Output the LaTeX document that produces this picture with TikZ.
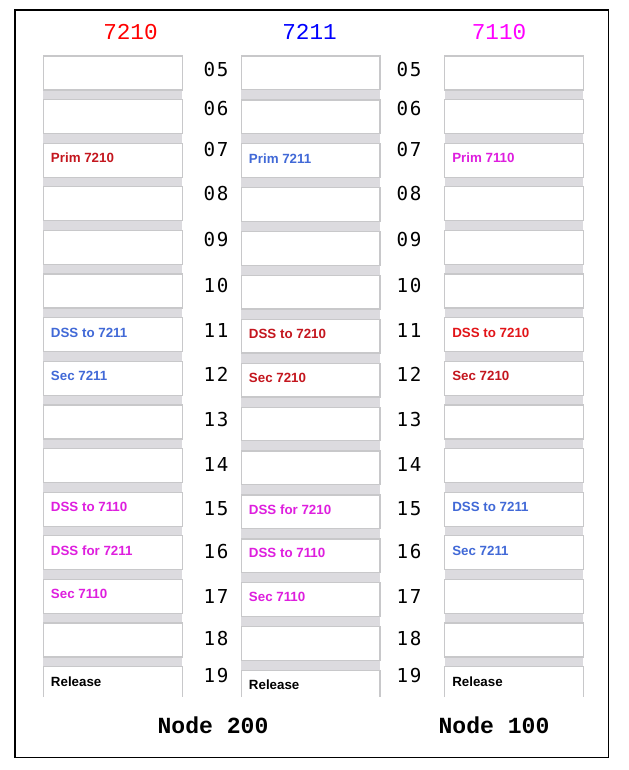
\documentclass[tikz,border=0pt]{standalone}
\usepackage{fontspec}
\setmainfont{Liberation Sans}
\newfontfamily\numfont[LetterSpace=8]{DejaVu Sans Mono}
\newfontfamily\hdrfont{Liberation Mono}
\definecolor{cellline}{RGB}{200,200,202}
\definecolor{bandfill}{RGB}{220,219,223}
\definecolor{colbg}{RGB}{253,253,253}
\definecolor{hred}{RGB}{255,0,0}
\definecolor{hblue}{RGB}{0,0,255}
\definecolor{hmag}{RGB}{255,0,255}
\definecolor{lred}{RGB}{196,22,30}
\definecolor{lbred}{RGB}{226,20,24}
\definecolor{lblue}{RGB}{65,105,215}
\definecolor{lmag}{RGB}{222,30,222}
\begin{document}
\begin{tikzpicture}[x=0.75pt,y=-0.75pt,
  cell/.style={draw=cellline,line width=0.95pt,fill=white},
  band/.style={fill=bandfill},
  lbl/.style={anchor=west,inner sep=0pt,font=\fontsize{10}{12}\selectfont\bfseries},
  num/.style={inner sep=0pt,font=\fontsize{14.4}{16}\selectfont\numfont},
  hdr/.style={inner sep=0pt,font=\fontsize{17}{20}\selectfont\hdrfont},
  foot/.style={inner sep=0pt,font=\fontsize{17.3}{20}\selectfont\hdrfont\bfseries}]
\useasboundingbox (0,0) rectangle (628,770);
\draw[line width=1pt] (15,10) rectangle (608.3,757.3);
% columns
\foreach \L/\R/\P/\H in {43.3/182.3/43.62/34, 241.3/380/43.9/33.6, 444.7/583.3/43.62/34}{
  \fill[colbg] (\L,56) rectangle (\R,697);
  \foreach \i in {0,...,13}{
    \fill[band] (\L,{56+\i*\P+\H}) rectangle (\R,{56+(\i+1)*\P});
    \draw[cell] (\L,{56+\i*\P}) rectangle (\R,{56+\i*\P+\H});
  }
  \fill[white] (\L,{56+14*\P}) rectangle (\R,697);
  \draw[draw=cellline,line width=0.95pt] (\L,697) -- (\L,{56+14*\P}) -- (\R,{56+14*\P}) -- (\R,697);
}
% headers
\node[hdr,text=hred]  (h7210) at (130.5,32.5) {7210};
\node[hdr,text=hblue] (h7211) at (309.5,31.5) {7211};
\node[hdr,text=hmag]  (h7110) at (499,32) {7110};
% slot numbers
\foreach \n/\y in {05/69.3,06/108.3,07/149.3,08/193.3,09/239.3,10/286,11/330.7,12/374,13/420,14/464.3,15/508.7,16/552,17/596.7,18/638.3,19/676}{
  \node[num] (na\n) at (216,\y) {\n};
  \node[num] (nb\n) at (409,\y) {\n};
}
% labels column 1
\foreach \r/\t/\c in {2/Prim 7210/lred,6/DSS to 7211/lblue,7/Sec 7211/lblue,10/DSS to 7110/lmag,11/DSS for 7211/lmag,12/Sec 7110/lmag,14/Release/black}{
  \node[lbl,text=\c] (la\r) at (50.7,{56+\r*43.62+14.7}) {\t};
}
% labels column 2
\foreach \r/\t/\c in {2/Prim 7211/lblue,6/DSS to 7210/lred,7/Sec 7210/lred,10/DSS for 7210/lmag,11/DSS to 7110/lmag,12/Sec 7110/lmag,14/Release/black}{
  \node[lbl,text=\c] (lb\r) at (248.7,{56+\r*43.9+14.4}) {\t};
}
% labels column 3
\foreach \r/\t/\c in {2/Prim 7110/lmag,6/DSS to 7210/lbred,7/Sec 7210/lred,10/DSS to 7211/lblue,11/Sec 7211/lblue,14/Release/black}{
  \node[lbl,text=\c] (lc\r) at (452,{56+\r*43.62+14.7}) {\t};
}
% footers
\node[foot] (node200) at (213,725.5) {Node 200};
\node[foot] (node100) at (494,725.5) {Node 100};
\end{tikzpicture}
\end{document}
